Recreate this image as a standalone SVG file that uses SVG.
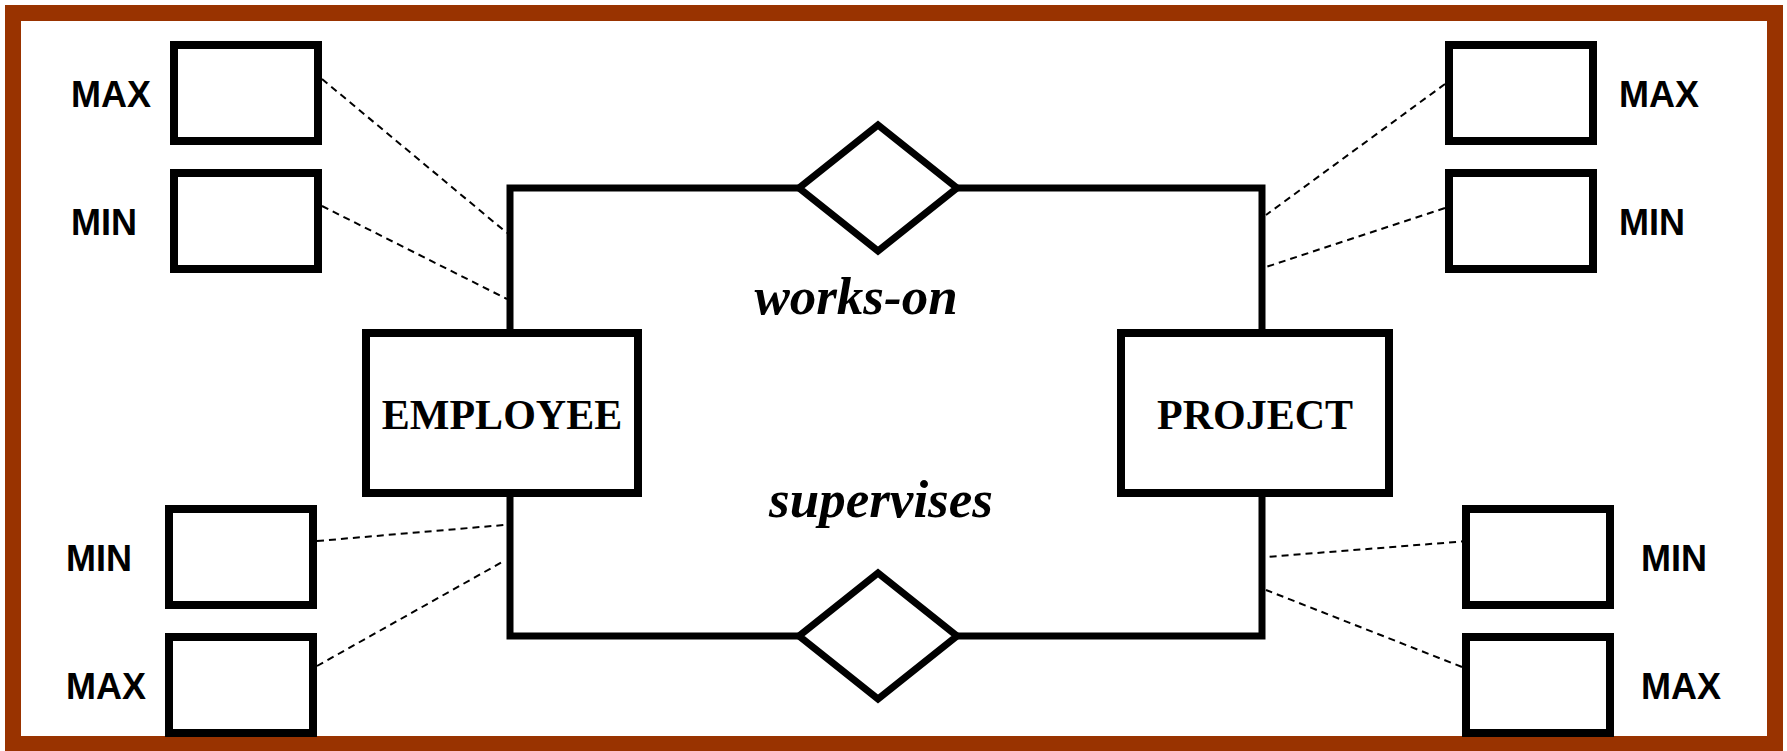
<svg xmlns="http://www.w3.org/2000/svg" width="1787" height="751" viewBox="0 0 1787 751">
<style>
.frame{fill:#ffffff;stroke:#993300;stroke-width:16}
.box{fill:#ffffff;stroke:#000;stroke-width:8}
.rel{fill:#ffffff;stroke:#000;stroke-width:7;stroke-linejoin:miter}
.line{fill:none;stroke:#000;stroke-width:7;stroke-linecap:square;stroke-linejoin:miter}
.dash{fill:none;stroke:#000;stroke-width:2;stroke-dasharray:7 5}
.lbl{font-family:"Liberation Sans",Arial,sans-serif;font-weight:bold;font-size:36px;fill:#000}
.ent{font-family:"Liberation Serif","Times New Roman",serif;font-weight:bold;font-size:42px;fill:#000;text-anchor:middle}
.relt{font-family:"Liberation Serif","Times New Roman",serif;font-weight:bold;font-style:italic;font-size:53px;fill:#000;text-anchor:middle}
</style>
<rect class="frame" x="13" y="13" width="1762" height="731"/>
<g id="connectors">
<path class="line" d="M800 188 H510 V333"/>
<path class="line" d="M956 188 H1262 V333"/>
<path class="line" d="M510 493 V636 H800"/>
<path class="line" d="M1262 493 V636 H956"/>
<line class="dash" x1="322" y1="79" x2="507" y2="233"/>
<line class="dash" x1="322" y1="206" x2="507" y2="299"/>
<line class="dash" x1="317" y1="541" x2="504" y2="525"/>
<line class="dash" x1="317" y1="666" x2="504" y2="561"/>
<line class="dash" x1="1445" y1="84" x2="1266" y2="215"/>
<line class="dash" x1="1445" y1="208" x2="1266" y2="267"/>
<line class="dash" x1="1468" y1="541" x2="1266" y2="557"/>
<line class="dash" x1="1462" y1="667" x2="1266" y2="590"/>
</g>
<g id="employee">
<rect class="box" x="366" y="333" width="272" height="160"/>
<text class="ent" x="502" y="429">EMPLOYEE</text>
</g>
<g id="project">
<rect class="box" x="1121" y="333" width="268" height="160"/>
<text class="ent" x="1255" y="429">PROJECT</text>
</g>
<g id="works-on">
<polygon class="rel" points="799,188 878,125 957,188 878,251"/>
<text class="relt" x="856" y="314">works-on</text>
</g>
<g id="supervises">
<polygon class="rel" points="799,636 878,573 957,636 878,699"/>
<text class="relt" x="881" y="517">supervises</text>
</g>
<g id="emp-works-max">
<rect class="box" x="174" y="45" width="144" height="96"/>
<text class="lbl" x="71" y="107">MAX</text>
</g>
<g id="emp-works-min">
<rect class="box" x="174" y="173" width="144" height="96"/>
<text class="lbl" x="71" y="235">MIN</text>
</g>
<g id="emp-sup-min">
<rect class="box" x="169" y="509" width="144" height="96"/>
<text class="lbl" x="66" y="571">MIN</text>
</g>
<g id="emp-sup-max">
<rect class="box" x="169" y="637" width="144" height="96"/>
<text class="lbl" x="66" y="699">MAX</text>
</g>
<g id="proj-works-max">
<rect class="box" x="1449" y="45" width="144" height="96"/>
<text class="lbl" x="1619" y="107">MAX</text>
</g>
<g id="proj-works-min">
<rect class="box" x="1449" y="173" width="144" height="96"/>
<text class="lbl" x="1619" y="235">MIN</text>
</g>
<g id="proj-sup-min">
<rect class="box" x="1466" y="509" width="144" height="96"/>
<text class="lbl" x="1641" y="571">MIN</text>
</g>
<g id="proj-sup-max">
<rect class="box" x="1466" y="637" width="144" height="96"/>
<text class="lbl" x="1641" y="699">MAX</text>
</g>
</svg>
